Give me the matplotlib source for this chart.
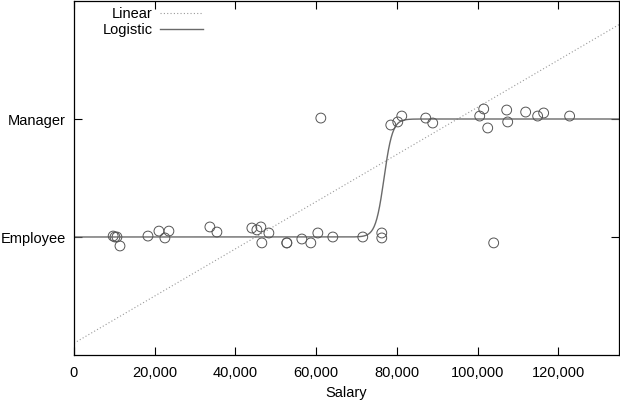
import numpy as np
import matplotlib
matplotlib.use("Agg")
import matplotlib.pyplot as plt
from matplotlib.ticker import FuncFormatter

plt.rcParams['font.family'] = ['Liberation Sans', 'DejaVu Sans']

# employees (0) and managers (1), y slightly jittered as in the picture
emp_salary = [9700, 10150, 10640, 11390, 18320, 21040, 22520, 23510, 33660, 35400,
              44060, 45300, 46290, 46530, 48270, 52720, 52720, 56440, 58660, 60400,
              64110, 71530, 76240, 76240, 103960]
emp_y = [0.008, 0.0, 0.0, -0.076, 0.008, 0.05, -0.008, 0.05, 0.085, 0.042,
         0.076, 0.06, 0.085, -0.05, 0.034, -0.05, -0.05, -0.017, -0.05, 0.034,
         0.0, 0.0, 0.034, -0.008, -0.05]
mgr_salary = [61140, 78470, 80200, 81190, 87130, 88860, 100500, 101490, 102480,
              107180, 107430, 111880, 114850, 116340, 122770]
mgr_y = [1.008, 0.949, 0.975, 1.025, 1.008, 0.966, 1.025, 1.085, 0.924,
         1.076, 0.975, 1.059, 1.025, 1.051, 1.025]

# fitted models
lin_intercept, lin_slope = -0.9, 2.0e-5
log_mid, log_k = 76800, 0.00095

x_ticks = [0, 20000, 40000, 60000, 80000, 100000, 120000]
y_ticks = [0, 1]
y_labels = ['Employee', 'Manager']

fig = plt.figure(figsize=(6.2, 4.05), dpi=100)
ax = fig.add_axes([74 / 620, 50 / 405, 545 / 620, 354 / 405])

xs = np.linspace(0, 135000, 800)
ax.plot(xs, lin_intercept + lin_slope * xs, color='#999999', lw=0.8,
        linestyle=(0, (1, 2)), label='Linear')
ax.plot(xs, 1 / (1 + np.exp(-log_k * (xs - log_mid))), color='#6a6a6a', lw=1.0,
        label='Logistic')

ax.scatter(emp_salary, emp_y, s=50, facecolors='none', edgecolors='#555555', linewidths=0.7, zorder=3)
ax.scatter(mgr_salary, mgr_y, s=50, facecolors='none', edgecolors='#555555', linewidths=0.7, zorder=3)

ax.set_xlim(0, 135000)
ax.set_ylim(-1, 2)
ax.set_xticks(x_ticks)
ax.xaxis.set_major_formatter(FuncFormatter(lambda v, p: f'{int(v):,}'))
ax.set_yticks(y_ticks)
ax.set_yticklabels(y_labels)
ax.tick_params(direction='in', top=True, right=True, length=6, width=0.8,
               labelsize=10.5)
ax.tick_params(axis='y', pad=6)
ax.tick_params(axis='x', pad=8)
for s in ax.spines.values():
    s.set_linewidth(0.9)
ax.set_xlabel('Salary', fontsize=10.5, labelpad=4)

ax.legend(loc='upper right', bbox_to_anchor=(0.237, 0.983), frameon=False, markerfirst=False,
          fontsize=10.5, handlelength=2.95, handletextpad=0.5, labelspacing=0.15,
          borderpad=0, borderaxespad=0)

plt.savefig('out.png', dpi=100)
